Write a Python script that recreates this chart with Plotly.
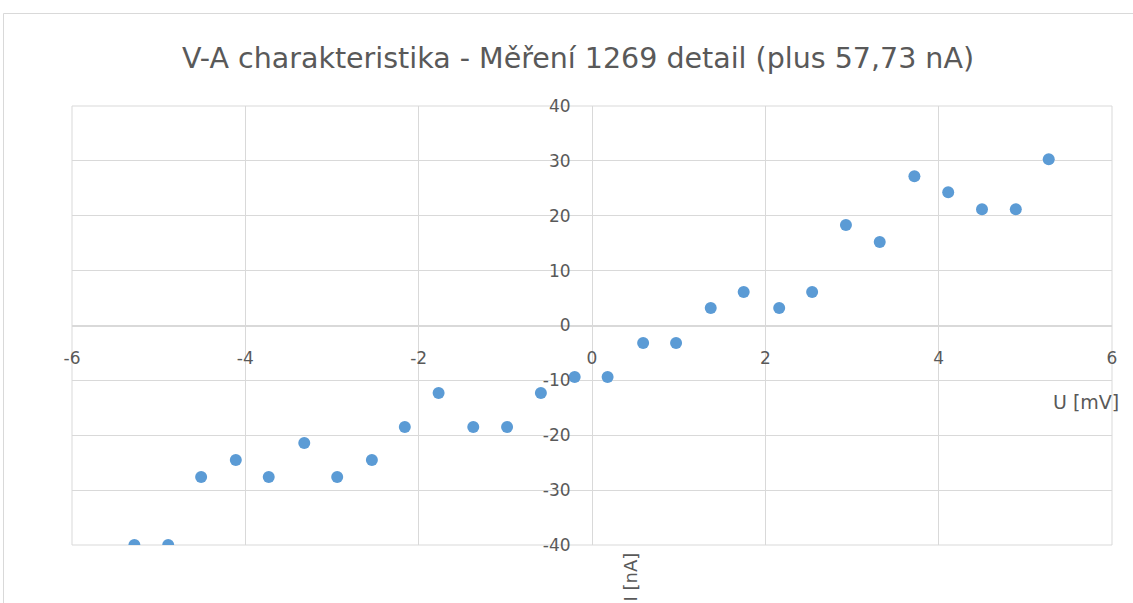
import plotly.graph_objects as go

# Measured voltage [mV] and current [nA]
u_mv = [-5.28, -4.89, -4.51, -4.11, -3.73, -3.32, -2.94, -2.54, -2.16, -1.77,
        -1.37, -0.98, -0.59, -0.20, 0.18, 0.59, 0.97, 1.37, 1.75, 2.16,
        2.54, 2.93, 3.32, 3.72, 4.11, 4.50, 4.89, 5.27]
i_na = [-40.0, -40.0, -27.6, -24.5, -27.6, -21.4, -27.6, -24.5, -18.5, -12.3,
        -18.5, -18.5, -12.3, -9.4, -9.4, -3.2, -3.2, 3.2, 6.1, 3.2,
        6.1, 18.3, 15.2, 27.2, 24.3, 21.2, 21.2, 30.3]

# Axis ticks (labels use a plain hyphen for negatives)
x_ticks = [-6, -4, -2, 0, 2, 4, 6]
x_tick_labels = ["-6", "-4", "-2", "0", "2", "4", "6"]
y_ticks = [-40, -30, -20, -10, 0, 10, 20, 30, 40]
y_tick_labels = ["-40", "-30", "-20", "-10", "0", "10", "20", "30", "40"]

title_text = "V-A charakteristika - Měření 1269 detail (plus 57,73 nA)"
x_title = "U [mV]"
y_title = "I [nA]"

W, H = 1133, 603
L, R, T, B = 72, 21, 106, 58
pw, ph = W - L - R, H - T - B

text_col = "#595959"
grid_col = "#D9D9D9"
font_family = "DejaVu Sans, Liberation Sans, sans-serif"

fig = go.Figure(
    go.Scatter(
        x=u_mv, y=i_na, mode="markers",
        marker=dict(color="#5B9BD5", size=12, line=dict(width=0)),
        hoverinfo="x+y",
    )
)


def px_x(p):
    return (p - L) / pw


def px_y(p):
    return (H - B - p) / ph


fig.update_layout(
    width=W, height=H,
    margin=dict(l=L, r=R, t=T, b=B, pad=0),
    paper_bgcolor="white", plot_bgcolor="white",
    showlegend=False,
    font=dict(family=font_family, color=text_col, size=17),
    title=dict(text=title_text, xref="container", x=578 / W, xanchor="center",
               yref="container", y=1 - 58 / H, yanchor="middle",
               font=dict(size=28.5, color=text_col, family=font_family)),
    xaxis=dict(
        range=[-6, 6], tickmode="array", tickvals=x_ticks, ticktext=x_tick_labels,
        showgrid=True, gridcolor=grid_col, gridwidth=1,
        zeroline=False, showline=True, linecolor=grid_col, linewidth=1,
        anchor="free", position=0.5, side="bottom",
        ticks="", ticklabelstandoff=17,
        tickfont=dict(size=17, color=text_col),
    ),
    yaxis=dict(
        range=[-40, 40], tickmode="array", tickvals=y_ticks, ticktext=y_tick_labels,
        showgrid=True, gridcolor=grid_col, gridwidth=1,
        zeroline=False, showline=True, linecolor=grid_col, linewidth=1,
        anchor="free", position=0.5, side="left",
        ticks="", ticklabelstandoff=18,
        tickfont=dict(size=17, color=text_col),
    ),
    annotations=[
        dict(text=x_title, xref="paper", yref="paper",
             x=px_x(1121), y=px_y(402), xanchor="right", yanchor="middle",
             showarrow=False, font=dict(size=19, color=text_col)),
        dict(text=y_title, xref="paper", yref="paper", textangle=-90,
             x=px_x(630), y=px_y(551), xanchor="center", yanchor="top",
             showarrow=False, font=dict(size=18, color=text_col)),
    ],
    shapes=[
        # outer chart frame
        dict(type="rect", xref="paper", yref="paper",
             x0=px_x(3.5), x1=px_x(1140), y0=px_y(620), y1=px_y(13.5),
             line=dict(color=grid_col, width=1), fillcolor="rgba(0,0,0,0)",
             layer="below"),
        # outermost grid lines around the plot area
        dict(type="rect", xref="paper", yref="paper",
             x0=0, x1=1, y0=0, y1=1,
             line=dict(color=grid_col, width=1), fillcolor="rgba(0,0,0,0)",
             layer="below"),
    ],
)

fig.write_html("out.html")
